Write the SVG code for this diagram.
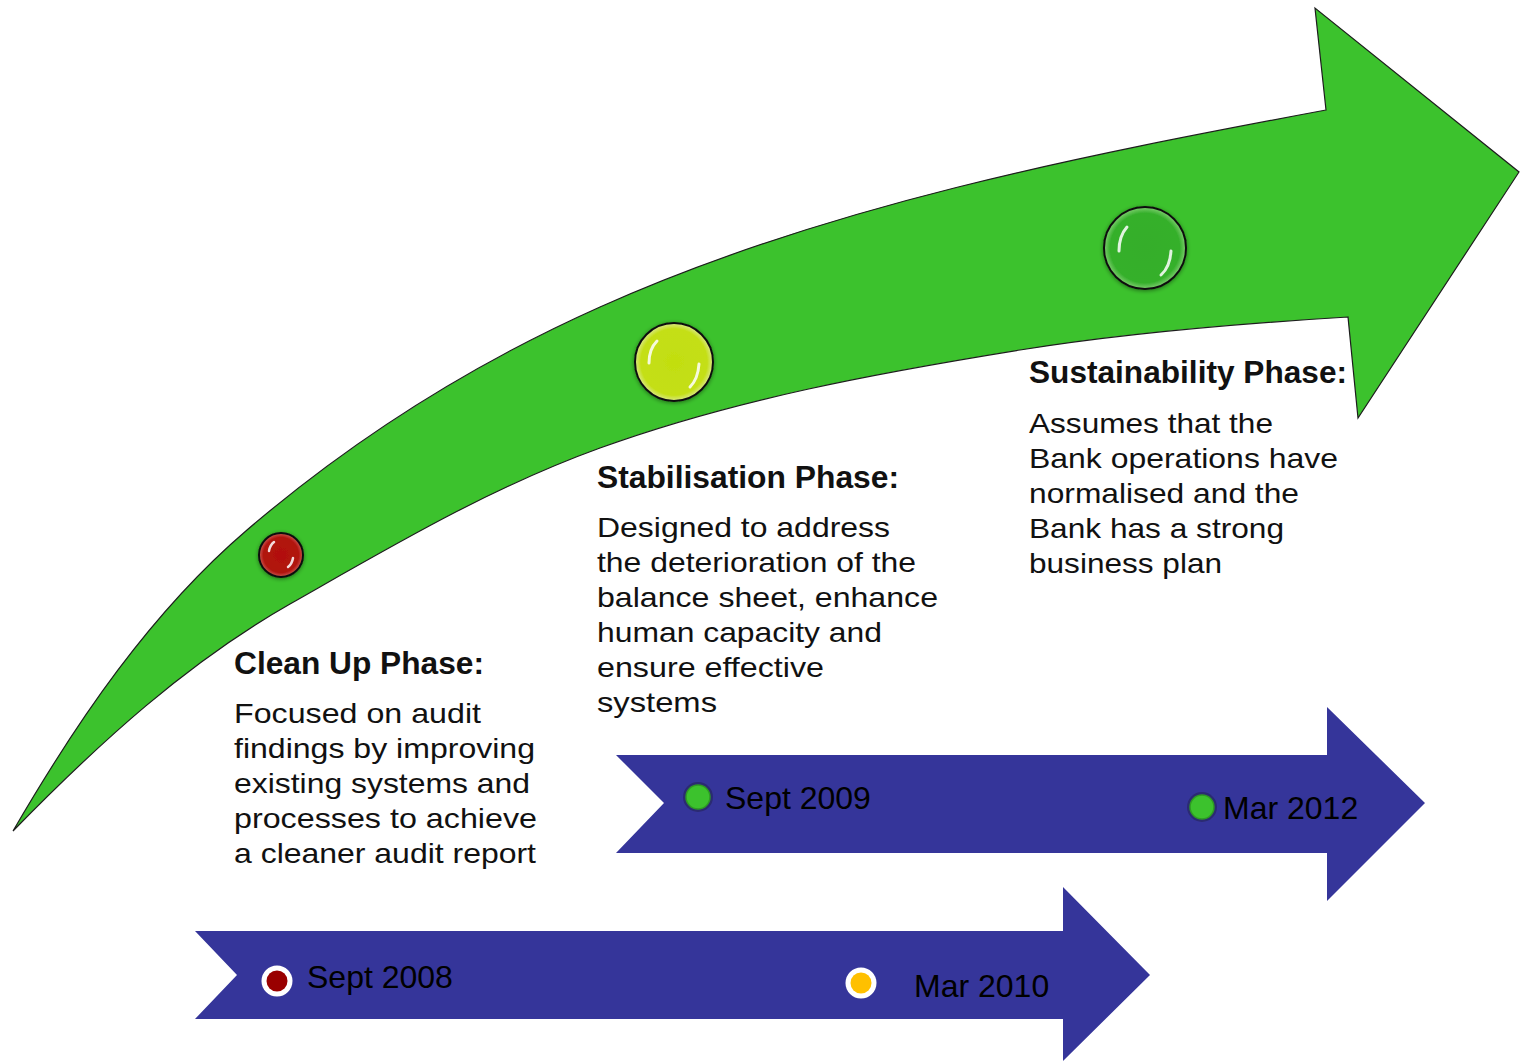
<svg xmlns="http://www.w3.org/2000/svg" width="1523" height="1061" viewBox="0 0 1523 1061">
  <defs>
    <style>
      .heading { font-family: "Liberation Sans", Arial, sans-serif; font-weight: bold; font-size: 31px; fill: #111; }
      .body { font-family: "Liberation Sans", Arial, sans-serif; font-size: 28px; fill: #111; }
      .date { font-family: "Liberation Sans", Arial, sans-serif; font-size: 32px; fill: #000; }
      .band { fill: #35359a; }
      .ball { stroke: #111; stroke-width: 2; }
      .shine { fill: none; stroke: #fff; stroke-linecap: round; opacity: 0.85; }
      .ring-light { fill: #fff; }
      .ring-dark { fill: #2b2b72; }
    </style>
    <radialGradient id="gRed" cx="50%" cy="50%" r="50%">
      <stop offset="0" stop-color="#b3100c"/>
      <stop offset="0.8" stop-color="#b01410"/>
      <stop offset="1" stop-color="#d05a50"/>
    </radialGradient>
    <radialGradient id="gYellow" cx="50%" cy="50%" r="50%">
      <stop offset="0" stop-color="#c2de10"/>
      <stop offset="0.85" stop-color="#c4df16"/>
      <stop offset="1" stop-color="#dbe98a"/>
    </radialGradient>
    <radialGradient id="gGreen" cx="50%" cy="50%" r="50%">
      <stop offset="0" stop-color="#34ae2a"/>
      <stop offset="0.85" stop-color="#36b02c"/>
      <stop offset="1" stop-color="#7fcf70"/>
    </radialGradient>
    <filter id="soft" x="-30%" y="-30%" width="160%" height="160%">
      <feGaussianBlur in="SourceAlpha" stdDeviation="2"/>
      <feOffset dx="0" dy="1" result="b"/>
      <feComponentTransfer><feFuncA type="linear" slope="0.45"/></feComponentTransfer>
      <feMerge><feMergeNode/><feMergeNode in="SourceGraphic"/></feMerge>
    </filter>
  </defs>

  <rect width="1523" height="1061" fill="#fff"/>

  <!-- Rising curved arrow -->
  <g id="growth-arrow">
    <path fill="#3cc22d" stroke="#1d1d1d" stroke-width="1.2" stroke-linejoin="miter"
      d="M 13,831
         C 77,721 150.5,612.5 247,530
         C 352.6,439.6 473,363.7 600,307
         C 828,205 1080,156 1326,110
         L 1315,8 L 1519,172 L 1358,418 L 1348,317
         C 1238,323.7 1128.6,332.5 1020,350
         C 878,372.9 735.4,399 600,448
         C 490,487.8 392,546 290,604
         C 188,662 100,742 13,831 Z"/>
  </g>

  <!-- Phase beads on the arrow -->
  <g id="bead-cleanup" filter="url(#soft)">
    <circle class="ball" cx="281" cy="555" r="22" fill="url(#gRed)"/>
    <path class="shine" stroke-width="2.5" d="M 269,551 Q 270,545 274,542"/>
    <path class="shine" stroke-width="2.5" d="M 293,558 Q 292,564 288,567"/>
  </g>
  <g id="bead-stabilisation" filter="url(#soft)">
    <circle class="ball" cx="674" cy="362" r="39" fill="url(#gYellow)"/>
    <path class="shine" stroke-width="3" d="M 649,363 Q 649,349 657,341"/>
    <path class="shine" stroke-width="3" d="M 699,364 Q 698,379 690,387"/>
  </g>
  <g id="bead-sustainability" filter="url(#soft)">
    <circle class="ball" cx="1145" cy="248" r="41" fill="url(#gGreen)"/>
    <path class="shine" stroke-width="3" d="M 1119,251 Q 1119,236 1127,227"/>
    <path class="shine" stroke-width="3" d="M 1171,251 Q 1170,267 1161,275"/>
  </g>

  <!-- Phase descriptions -->
  <g id="phase-cleanup">
    <text class="heading" x="234" y="674" textLength="250" lengthAdjust="spacingAndGlyphs">Clean Up Phase:</text>
    <text class="body" x="234" y="723" textLength="247" lengthAdjust="spacingAndGlyphs">Focused on audit</text>
    <text class="body" x="234" y="758" textLength="301" lengthAdjust="spacingAndGlyphs">findings by improving</text>
    <text class="body" x="234" y="793" textLength="296" lengthAdjust="spacingAndGlyphs">existing systems and</text>
    <text class="body" x="234" y="828" textLength="303" lengthAdjust="spacingAndGlyphs">processes to achieve</text>
    <text class="body" x="234" y="863" textLength="302" lengthAdjust="spacingAndGlyphs">a cleaner audit report</text>
  </g>
  <g id="phase-stabilisation">
    <text class="heading" x="597" y="488" textLength="302" lengthAdjust="spacingAndGlyphs">Stabilisation Phase:</text>
    <text class="body" x="597" y="537" textLength="293" lengthAdjust="spacingAndGlyphs">Designed to address</text>
    <text class="body" x="597" y="572" textLength="319" lengthAdjust="spacingAndGlyphs">the deterioration of the</text>
    <text class="body" x="597" y="607" textLength="341" lengthAdjust="spacingAndGlyphs">balance sheet, enhance</text>
    <text class="body" x="597" y="642" textLength="285" lengthAdjust="spacingAndGlyphs">human capacity and</text>
    <text class="body" x="597" y="677" textLength="227" lengthAdjust="spacingAndGlyphs">ensure effective</text>
    <text class="body" x="597" y="712" textLength="120" lengthAdjust="spacingAndGlyphs">systems</text>
  </g>
  <g id="phase-sustainability">
    <text class="heading" x="1029" y="383" textLength="318" lengthAdjust="spacingAndGlyphs">Sustainability Phase:</text>
    <text class="body" x="1029" y="433" textLength="244" lengthAdjust="spacingAndGlyphs">Assumes that the</text>
    <text class="body" x="1029" y="468" textLength="309" lengthAdjust="spacingAndGlyphs">Bank operations have</text>
    <text class="body" x="1029" y="503" textLength="270" lengthAdjust="spacingAndGlyphs">normalised and the</text>
    <text class="body" x="1029" y="538" textLength="255" lengthAdjust="spacingAndGlyphs">Bank has a strong</text>
    <text class="body" x="1029" y="573" textLength="193" lengthAdjust="spacingAndGlyphs">business plan</text>
  </g>

  <!-- Timeline bands -->
  <g id="timeline-late">
    <polygon class="band" points="616,755 1327,755 1327,707 1425,803 1327,901 1327,853 616,853 664,803"/>
    <circle class="ring-dark" cx="698" cy="797" r="15"/>
    <circle cx="698" cy="797" r="12" fill="#3cc22d" stroke="#2e9a24" stroke-width="1.5"/>
    <text class="date" x="725" y="809">Sept 2009</text>
    <circle class="ring-dark" cx="1202" cy="807" r="15"/>
    <circle cx="1202" cy="807" r="12" fill="#3cc22d" stroke="#2e9a24" stroke-width="1.5"/>
    <text class="date" x="1223" y="819">Mar 2012</text>
  </g>
  <g id="timeline-early">
    <polygon class="band" points="195,931 1063,931 1063,887 1150,975 1063,1061 1063,1019 195,1019 237,975"/>
    <circle class="ring-light" cx="277" cy="981" r="15.5"/>
    <circle cx="277" cy="981" r="10.5" fill="#990000"/>
    <text class="date" x="307" y="988">Sept 2008</text>
    <circle class="ring-light" cx="861" cy="983" r="15.5"/>
    <circle cx="861" cy="983" r="10.5" fill="#ffc000"/>
    <text class="date" x="914" y="997">Mar 2010</text>
  </g>
</svg>
